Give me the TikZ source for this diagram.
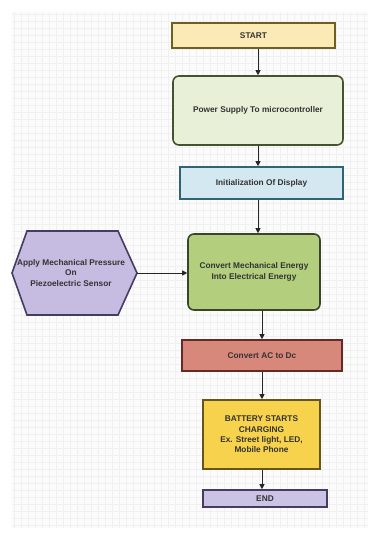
\documentclass[tikz,border=0pt]{standalone}
\usepackage{fontspec}
\setmainfont{Liberation Sans}
\usetikzlibrary{arrows.meta}
\definecolor{startfill}{HTML}{FCEAB6}
\definecolor{startdraw}{HTML}{6E6020}
\definecolor{pwfill}{HTML}{E8F0D8}
\definecolor{pwdraw}{HTML}{44522F}
\definecolor{initfill}{HTML}{D3E8F1}
\definecolor{initdraw}{HTML}{2E6575}
\definecolor{mechfill}{HTML}{B3CF7E}
\definecolor{mechdraw}{HTML}{3A4628}
\definecolor{hexfill}{HTML}{C6BBE0}
\definecolor{hexdraw}{HTML}{463B62}
\definecolor{acfill}{HTML}{D8887A}
\definecolor{acdraw}{HTML}{642A24}
\definecolor{batfill}{HTML}{F7D24C}
\definecolor{batdraw}{HTML}{66561C}
\definecolor{endfill}{HTML}{CBC3E3}
\definecolor{enddraw}{HTML}{463B62}
\definecolor{txt}{HTML}{333333}
\definecolor{gridc}{HTML}{F0F0F0}
\definecolor{bgc}{HTML}{FBFBFB}
\tikzset{
  lbl/.style={font=\fontsize{8.3}{10.3}\selectfont\bfseries, text=txt, align=center},
  box/.style={lbl, draw, line width=1.6pt, inner sep=0pt},
  arr/.style={draw=black!85, line width=0.8pt, -{Triangle[width=5pt,length=5pt]}}
}
\begin{document}
\begin{tikzpicture}[x=1pt,y=-1pt]
\useasboundingbox (0,0) rectangle (377,547);
\fill[white] (0,0) rectangle (377,547);
\fill[bgc] (12,12) rectangle (368,528);
\draw[gridc, line width=0.3pt, step=7pt] (12,12) grid (368,528);
% nodes
\node[box, fill=startfill, draw=startdraw, minimum width=163pt, minimum height=25pt] (start) at (253.5,35.5) {START};
\node[box, fill=pwfill, draw=pwdraw, rounded corners=6pt, minimum width=170pt, minimum height=69pt] (pw) at (258,110.5) {Power Supply To microcontroller};
\node[box, fill=initfill, draw=initdraw, minimum width=163pt, minimum height=32pt] (init) at (261.5,183) {Initialization Of Display};
\node[box, fill=mechfill, draw=mechdraw, rounded corners=6pt, minimum width=132pt, minimum height=76pt] (mech) at (254,272) {Convert Mechanical Energy\\Into Electrical Energy};
\filldraw[fill=hexfill, draw=hexdraw, line width=1.6pt, line join=miter] (12,273) -- (27,231) -- (118,231) -- (137,273) -- (118,315) -- (27,315) -- cycle;
\coordinate (hexr) at (137,273);
\node[lbl] (hex) at (71,273) {Apply Mechanical Pressure\\On\\Piezoelectric Sensor};
\node[box, fill=acfill, draw=acdraw, minimum width=160pt, minimum height=31pt] (ac) at (262,355.5) {Convert AC to Dc};
\node[box, fill=batfill, draw=batdraw, minimum width=117pt, minimum height=69pt] (bat) at (261.5,434.5) {BATTERY STARTS\\CHARGING\\Ex. Street light, LED,\\Mobile Phone};
\node[box, fill=endfill, draw=enddraw, minimum width=124pt, minimum height=17pt] (end) at (265,498.5) {END};
% connectors
\draw[arr] (pw.north |- start.south) -- (pw.north);
\draw[arr] (pw.south) -- (pw.south |- init.north);
\draw[arr] (pw.south |- init.south) -- (pw.south |- mech.north);
\draw[arr] (hexr) -- (mech.west |- hexr);
\draw[arr] (ac.north |- mech.south) -- (ac.north);
\draw[arr] (ac.south) -- (ac.south |- bat.north);
\draw[arr] (ac.south |- bat.south) -- (ac.south |- end.north);
\end{tikzpicture}
\end{document}
